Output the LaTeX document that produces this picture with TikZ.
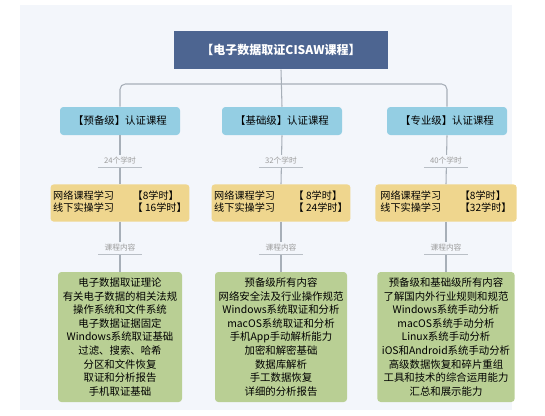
\documentclass[tikz,border=0pt]{standalone}
\usepackage{fontspec}
\setmainfont{Noto Sans CJK SC}
\usepackage{tikz}
\usetikzlibrary{positioning, calc}
\definecolor{panel}{HTML}{F3F6FB}
\definecolor{titleblue}{HTML}{4D6591}
\definecolor{levelblue}{HTML}{94CEE3}
\definecolor{hourgold}{HTML}{EFD68E}
\definecolor{topicgreen}{HTML}{B9CF94}
\definecolor{linkgrey}{HTML}{A7AFB8}
\definecolor{notegrey}{HTML}{9C9C9C}
\tikzset{
  titlebox/.style={fill=titleblue, text=white, font=\fontsize{9}{11}\selectfont\bfseries,
    minimum width=160pt, minimum height=29pt, inner sep=0pt},
  levelbox/.style={fill=levelblue, rounded corners=2.5pt, font=\fontsize{7.8}{9}\selectfont,
    minimum width=90pt, minimum height=21pt, inner sep=0pt},
  hourbox/.style={fill=hourgold, rounded corners=2.5pt, font=\fontsize{7.6}{9.4}\selectfont,
    minimum width=101pt, minimum height=28pt, inner sep=2pt},
  topicbox/.style={fill=topicgreen, rounded corners=2.5pt, font=\fontsize{7.8}{10.2}\selectfont,
    align=center, minimum height=97.5pt, inner sep=2pt},
  note/.style={fill=panel, text=notegrey, font=\fontsize{5.8}{7}\selectfont, inner sep=1.5pt},
  link/.style={draw=linkgrey, line width=0.8pt},
  noteline/.style={draw=linkgrey!80, line width=0.5pt}
}
\newcommand{\hours}[2]{\begin{tabular}{@{}l@{\hspace{14pt}}l@{}}网络课程学习 & #1\\ 线下实操学习 & #2\end{tabular}}
\begin{document}
\begin{tikzpicture}[x=0.75pt, y=-0.75pt]
  \useasboundingbox (0,0) rectangle (545,415);
  \fill[panel] (20,5) rectangle (512,410);

  % top of the tree
  \node[titlebox] (title) at (281,50) {【电子数据取证CISAW课程】};
  \coordinate (bar) at (281,84);

  % three levels
  \node[levelbox] (lvA) at (120,121) {【预备级】认证课程};
  \node[levelbox] (lvB) at (282,121) {【基础级】认证课程};
  \node[levelbox] (lvC) at (447,121) {【专业级】认证课程};

  \node[hourbox] (hrA) at (120,203) {\hours{【8学时】}{【 16学时】}};
  \node[hourbox] (hrB) at (281,203) {\hours{【 8学时】}{【 24学时】}};
  \node[hourbox, minimum width=106pt] (hrC) at (446,203) {\hours{【8学时】}{【32学时】}};

  \node[topicbox, minimum width=93pt] (tpA) at (120,337)
    {电子数据取证理论\\有关电子数据的相关法规\\操作系统和文件系统\\电子数据证据固定\\Windows系统取证基础\\过滤、搜索、哈希\\分区和文件恢复\\取证和分析报告\\手机取证基础};
  \node[topicbox, minimum width=99pt] (tpB) at (281,337)
    {预备级所有内容\\网络安全法及行业操作规范\\Windows系统取证和分析\\macOS系统取证和分析\\手机App手动解析能力\\加密和解密基础\\数据库解析\\手工数据恢复\\详细的分析报告};
  \node[topicbox, minimum width=103pt] (tpC) at (446,337)
    {预备级和基础级所有内容\\了解国内外行业规则和规范\\Windows系统手动分析\\macOS系统手动分析\\Linux系统手动分析\\iOS和Android系统手动分析\\高级数据恢复和碎片重组\\工具和技术的综合运用能力\\汇总和展示能力};

  % connectors
  \draw[link, rounded corners=4pt] (lvA.north) |- (bar) -| (lvC.north);
  \draw[link] (title.south) -- (lvB.north);
  \draw[link] (lvA.south) -- (hrA.north);
  \draw[link] (lvB.south) -- (hrB.north);
  \draw[link] (lvC.south) -- (hrC.north);
  \draw[link] (hrA.south) -- (tpA.north);
  \draw[link] (hrB.south) -- (tpB.north);
  \draw[link] (hrC.south) -- (tpC.north);

  % notes on the lines
  \node[note] (ntA) at (120,161) {24个学时};
  \node[note] (ntB) at (281,161) {32个学时};
  \node[note] (ntC) at (446,161) {40个学时};
  \node[note] (ctA) at (120,248) {课程内容};
  \node[note] (ctB) at (281,248) {课程内容};
  \node[note] (ctC) at (446,248) {课程内容};
  \foreach \n in {ntA,ntB,ntC,ctA,ctB,ctC}
    \draw[noteline] ($(\n.south west)+(-4,0)$) -- ($(\n.south east)+(4,0)$);
\end{tikzpicture}
\end{document}
